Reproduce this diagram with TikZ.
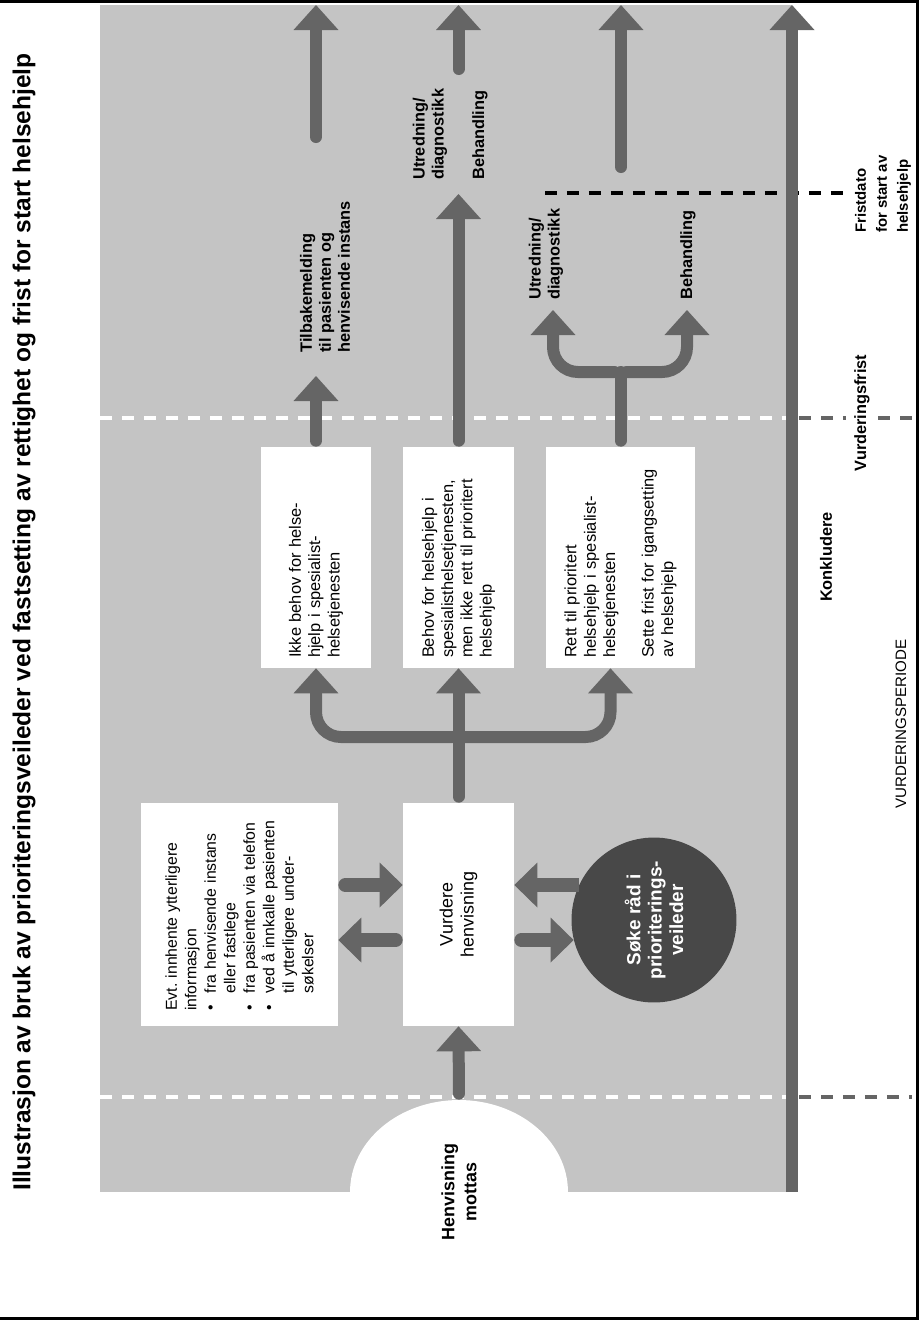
\documentclass[tikz,border=0pt]{standalone}
\usepackage{fontspec}
\setmainfont{Liberation Sans}
\usepackage{tikz}
\usetikzlibrary{arrows.meta, shapes.geometric, positioning}
\definecolor{panelgray}{HTML}{C4C4C4}
\definecolor{flowgray}{HTML}{656565}
\definecolor{ballgray}{HTML}{484848}
\newcommand{\bul}{\makebox[1.1em][l]{\textbullet}}
\newcommand{\ind}{\hspace*{1.1em}}
\frenchspacing
\hyphenpenalty=10000
\tikzset{
    panel/.style={rectangle, rotate=90, fill=white, inner sep=0pt, align=left, font=\fontsize{9.35}{11}\selectfont},
    tag/.style={rotate=90, inner sep=0pt, align=left, font=\bfseries\fontsize{9.3}{10.8}\selectfont},
    flow/.style={line width=0.24cm, draw=flowgray, line cap=round, shorten <=0.12cm, -{Triangle[width=0.9cm,length=0.5cm,line width=0pt]}},
    flowbar/.style={line width=0.24cm, draw=flowgray, line cap=round, shorten <=0.12cm},
    side/.style={flow, line width=0.28cm, shorten <=0.14cm, -{Triangle[width=0.9cm,length=0.46cm,line width=0pt]}},
    gap/.style={line width=0.08cm, dash pattern=on 0.24cm off 0.2cm}
}

\begin{document}
\begin{tikzpicture}[x=0.02cm, y=-0.02cm]
    \useasboundingbox (0,0) rectangle (919,1320);
    \draw[line width=0.06cm] (0,1.5) -- (917.5,1.5) -- (917.5,1318.5) -- (0,1318.5);
    \fill[panelgray] (100,5) rectangle (792,1192);

    \node[tag, font=\bfseries\fontsize{13.95}{16}\selectfont] (title) at (24,622) {Illustrasjon av bruk av prioriteringsveileder ved fastsetting av rettighet og frist for start helsehjelp};

    % frister
    \draw[gap, white] (100,418) -- (786,418);
    \draw[gap, white] (100,1097) -- (786,1097);
    \draw[gap, flowgray] (799,418) -- (846,418);
    \draw[gap, flowgray] (878,418) -- (912,418);
    \draw[gap, flowgray] (799,1097) -- (912,1097);
    \draw[gap, black] (545,193) -- (846,193);

    \coordinate (t0) at (792,1192);
    \coordinate (t1) at (792,5);
    \draw[flow, line cap=butt, shorten <=0pt] (t0) -- (t1);

    \node[ellipse, rotate=90, fill=white, minimum width=3.68cm, minimum height=4.36cm, inner sep=0pt, align=center, font=\bfseries\fontsize{10.2}{12.5}\selectfont] (mottas) at (459,1192) {Henvisning\\mottas};

    \node[panel, minimum width=4.46cm, minimum height=2.22cm, text width=4.06cm, align=center, font=\fontsize{10.2}{11.9}\selectfont] (vurdere) at (458.5,914.5) {Vurdere\\henvisning};
    \node[panel, minimum width=4.46cm, minimum height=3.94cm, text width=3.85cm, font=\fontsize{9}{11.1}\selectfont] (evt) at (239.5,914.5) {Evt. innhente ytterligere\\informasjon\\\bul fra henvisende instans\\\ind eller fastlege\\\bul fra pasienten via telefon\\\bul ved å innkalle pasienten\\\ind til ytterligere under-\\\ind søkelser};
    \node[circle, rotate=90, fill=ballgray, text=white, minimum size=3.3cm, inner sep=0pt, align=center, font=\bfseries\fontsize{10.8}{12.2}\selectfont] (soke) at (654,920) {Søke råd i\\prioriterings-\\veileder};

    \node[panel, minimum width=4.42cm, minimum height=2.2cm, text width=4.02cm] (ikke) at (316,557.5) {Ikke behov for helse-\\hjelp i spesialist-\\helsetjenesten};
    \node[panel, minimum width=4.42cm, minimum height=2.22cm, text width=4.02cm] (behov) at (458.5,557.5) {Behov for helsehjelp i\\spesialisthelsetjenesten,\\men ikke rett til prioritert\\helsehjelp};
    \node[panel, minimum width=4.42cm, minimum height=2.98cm, text width=4.02cm] (rett) at (620.5,557.5) {Rett til prioritert\\helsehjelp i spesialist-\\helsetjenesten\\[11pt]Sette frist for igangsetting\\av helsehjelp};

    \node[tag, anchor=west] (tilbake) at (325,353) {Tilbakemelding\\til pasienten og\\henvisende instans};
    \node[tag, anchor=west] (utredA) at (430,180) {Utredning/\\diagnostikk};
    \node[tag, anchor=west] (behA) at (480,180) {Behandling};
    \node[tag, anchor=west] (utredB) at (546,300) {Utredning/\\diagnostikk};
    \node[tag, anchor=west] (behB) at (688,300) {Behandling};
    \node[tag, anchor=west, font=\bfseries\fontsize{8.5}{11.9}\selectfont] (frist) at (883,233) {Fristdato\\for start av\\helsehjelp};
    \node[tag] (vfrist) at (862,413) {Vurderingsfrist};
    \node[tag] (konkl) at (826,557) {Konkludere};
    \node[tag, font=\fontsize{8.6}{10}\selectfont] (periode) at (901,724) {VURDERINGSPERIODE};

    % piler
    \draw[flow] (mottas.east) -- (vurdere.west);
    \draw[side] (evt.south |- soke.65) -- (vurdere.north |- soke.65);
    \draw[side] (vurdere.north |- soke.104) -- (evt.south |- soke.104);
    \draw[side, line cap=butt, shorten <=0pt] (soke.65) -- (soke.65 -| vurdere.south);
    \draw[side] (soke.104 -| vurdere.south) -- (soke.104);

    \draw[flow] (vurdere.east) -- (behov.west);
    \coordinate (split) at (458.5,737);
    \draw[flow, rounded corners=0.5cm] (split) -| (ikke.west);
    \draw[flow, rounded corners=0.5cm] (split) -| ([xshift=-0.2cm]rett.west);

    \coordinate (backtip) at (316,376);
    \draw[flow] (ikke.east) -- (backtip);
    \coordinate (midtip) at (458.5,194);
    \draw[flow] (behov.east) -- (midtip);
    \coordinate (split2) at (620.5,372);
    \draw[flowbar] (rett.east) -- (split2);
    \coordinate (utredtip) at (553,310);
    \coordinate (behtip) at (687,310);
    \draw[flow, rounded corners=0.5cm] (split2) -| (utredtip);
    \draw[flow, rounded corners=0.5cm] (split2) -| (behtip);

    \foreach \n/\x/\y in {a/316/143, b/458.5/75, c/621/173} {
        \coordinate (low\n) at (\x,\y);
        \coordinate (top\n) at (\x,5);
        \draw[flow] (low\n) -- (top\n);
    }
\end{tikzpicture}
\end{document}
